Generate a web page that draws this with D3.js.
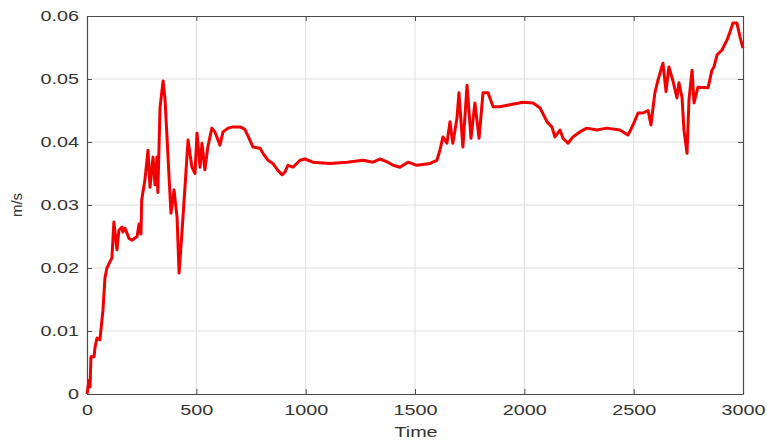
<!DOCTYPE html>
<html>
<head>
    <title>Speed over time</title>
    <script src="https://d3js.org/d3.v7.min.js"></script>
    <style>
        body { margin: 0; background: #fff; }
        text { font-family: "Liberation Sans", Arial, sans-serif; }
    </style>
</head>
<body>
    <svg width="767" height="444"></svg>

    <script>
        // values
        const time = [0, 9, 14, 18, 32, 37, 46, 59, 73, 82, 91, 105, 114, 123, 137, 146, 160, 164, 174, 192, 206, 229, 238, 247,
            250, 265, 279, 288, 302, 311, 320, 324, 334, 348, 357, 370, 384, 398, 412, 421, 434, 448, 462, 480, 494, 503, 517, 526,
            539, 553, 571, 585, 608, 622, 645, 668, 700, 722, 745, 759, 791, 805, 828, 850, 873, 892, 905, 919, 942, 974, 997, 1033,
            1111, 1190, 1262, 1308, 1340, 1370, 1400, 1431, 1468, 1509, 1569, 1600, 1614, 1628, 1646, 1660, 1673, 1692, 1701, 1719,
            1738, 1756, 1774, 1793, 1811, 1834, 1857, 1888, 1934, 1994, 2040, 2072, 2104, 2126, 2140, 2163, 2177, 2200, 2222, 2254,
            2286, 2332, 2378, 2437, 2474, 2497, 2520, 2543, 2566, 2579, 2597, 2611, 2634, 2648, 2661, 2679, 2698, 2707, 2721, 2730,
            2744, 2753, 2767, 2776, 2794, 2840, 2858, 2867, 2881, 2904, 2927, 2940, 2954, 2972, 2986, 3000];
        const speed = [0, 0.0022, 0.0011, 0.0059, 0.0059, 0.0075, 0.0089, 0.0086, 0.0133, 0.0184, 0.020, 0.021, 0.0216, 0.0273, 0.0229,
            0.026, 0.0265, 0.0257, 0.0263, 0.0247, 0.0244, 0.025, 0.027, 0.0254,
            0.0308, 0.034, 0.0387, 0.0328, 0.0376, 0.0332, 0.0376, 0.032, 0.0455, 0.0497, 0.0467, 0.038, 0.0287, 0.0324, 0.028,
            0.0192, 0.0255, 0.0328, 0.0403, 0.036, 0.035, 0.0414, 0.036, 0.0398, 0.0356, 0.0393, 0.0422, 0.0416, 0.0395, 0.0416,
            0.0422, 0.0424, 0.0424, 0.042, 0.0403, 0.0392, 0.039, 0.0382, 0.0371, 0.0366, 0.0355, 0.0348, 0.0352, 0.0363, 0.036,
            0.0371, 0.0373, 0.0368, 0.0366, 0.0368, 0.0371, 0.0368, 0.0373, 0.0369, 0.0363, 0.036, 0.0368, 0.0363, 0.0366, 0.0371,
            0.0387, 0.0408, 0.0398, 0.0432, 0.0398, 0.0438, 0.0478, 0.0392, 0.049, 0.0406, 0.0462, 0.0406, 0.0478, 0.0478, 0.0456,
            0.0456, 0.0459, 0.0463, 0.0462, 0.0454, 0.0432, 0.0424, 0.0408, 0.0419, 0.0406, 0.0398, 0.0408, 0.0416, 0.0422, 0.0419,
            0.0422, 0.0419, 0.0411, 0.0427, 0.0446, 0.0446, 0.045, 0.0427, 0.0478, 0.0498, 0.0525, 0.048, 0.0519, 0.0498, 0.047,
            0.0494, 0.0471, 0.0419, 0.0382, 0.0467, 0.0514, 0.0462, 0.0487, 0.0486, 0.0514, 0.0519, 0.0538, 0.0546, 0.0562, 0.0574,
            0.0589, 0.0589, 0.0567, 0.0549];
        const xTicks = [0, 500, 1000, 1500, 2000, 2500, 3000];
        const yTicks = [0, 0.01, 0.02, 0.03, 0.04, 0.05, 0.06];

        const svg = d3.select("svg");
        const margin = {top: 16, right: 24, bottom: 50, left: 87};
        const width = +svg.attr("width") - margin.left - margin.right;
        const height = +svg.attr("height") - margin.top - margin.bottom;
        const stretch = 1.32; // the source picture is drawn wider than tall

        const x = d3.scaleLinear().domain([0, 3000]).range([0, width]);
        const y = d3.scaleLinear().domain([0, 0.06]).range([height, 0]);

        const g = svg.append("g").attr("transform", `translate(${margin.left},${margin.top})`);

        // grid
        g.append("g").selectAll("line").data(xTicks.slice(1, -1)).join("line")
            .attr("x1", d => x(d)).attr("x2", d => x(d))
            .attr("y1", 0).attr("y2", height)
            .attr("stroke", "#dedede");
        g.append("g").selectAll("line").data(yTicks.slice(1, -1)).join("line")
            .attr("y1", d => y(d)).attr("y2", d => y(d))
            .attr("x1", 0).attr("x2", width)
            .attr("stroke", "#dedede");

        // the series
        const data = time.map((t, i) => ({t, v: speed[i]}));
        g.append("path")
            .datum(data)
            .attr("fill", "none")
            .attr("stroke", "#f20000")
            .attr("stroke-width", 3)
            .attr("stroke-linejoin", "round")
            .attr("d", d3.line().x(d => x(d.t)).y(d => y(d.v)));

        // axes, box style with inward ticks
        const axisColor = "#4a4a4a";
        const styleAxis = sel => {
            sel.select(".domain").attr("stroke", axisColor).attr("stroke-width", 1.2);
            sel.selectAll(".tick line").attr("stroke", axisColor);
            sel.selectAll(".tick text")
                .attr("fill", "#333").style("font-size", "15px")
                .each(function () {
                    const t = d3.select(this);
                    const tx = +t.attr("x") || 0, ty = +t.attr("y") || 0;
                    t.attr("transform", `translate(${tx},${ty}) scale(${stretch},1)`).attr("x", 0).attr("y", 0);
                });
        };
        g.append("g").attr("transform", `translate(0,${height})`)
            .call(d3.axisBottom(x).tickValues(xTicks).tickSize(-5).tickSizeOuter(0).tickPadding(10).tickFormat(d3.format("d")))
            .call(styleAxis);
        g.append("g")
            .call(d3.axisLeft(y).tickValues(yTicks).tickSize(-5).tickSizeOuter(0).tickPadding(8)
                .tickFormat(d => d === 0 ? "0" : d3.format(".2f")(d)))
            .call(styleAxis);
        g.append("g")
            .call(d3.axisTop(x).tickValues(xTicks).tickSize(-5).tickSizeOuter(0).tickFormat(""))
            .call(styleAxis);
        g.append("g").attr("transform", `translate(${width},0)`)
            .call(d3.axisRight(y).tickValues(yTicks).tickSize(-5).tickSizeOuter(0).tickFormat(""))
            .call(styleAxis);

        // labels
        svg.append("text")
            .attr("transform", `translate(${margin.left + width / 2 + 1},437) scale(${stretch},1)`)
            .attr("text-anchor", "middle")
            .attr("fill", "#333").style("font-size", "15px")
            .text("Time");
        svg.append("text")
            .attr("transform", `translate(22,${margin.top + height / 2}) rotate(-90)`)
            .attr("text-anchor", "middle")
            .attr("fill", "#333").style("font-size", "15px")
            .text("m/s");
    </script>
</body>
</html>
